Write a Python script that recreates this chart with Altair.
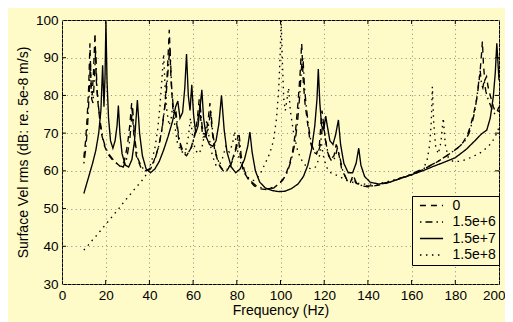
import altair as alt
import pandas as pd

BG = "#fefbc9"
FONT = "Liberation Sans"

x_ticks = [0, 20, 40, 60, 80, 100, 120, 140, 160, 180, 200]
y_ticks = [30, 40, 50, 60, 70, 80, 90, 100]
series_names = ["0", "1.5e+6", "1.5e+7", "1.5e+8"]

# (frequency Hz, level dB)
s_0 = [(10, 63.5), (10.8, 68), (11.5, 74), (12.2, 82), (12.8, 93.8), (13.3, 82), (13.8, 80), (14.4, 86),
       (15.1, 96.5), (15.7, 84), (16.3, 79), (17, 75), (18, 70), (19.5, 66.5), (21, 64.5), (23, 63),
       (25, 62), (27, 61), (28.5, 62.5), (30, 67), (31, 72), (31.9, 78), (32.8, 70), (34, 64), (36, 61),
       (38, 60), (40, 60.5), (42, 62.5), (44, 66), (45.5, 70), (47, 77), (48.2, 86), (49.1, 97.4),
       (49.9, 84), (50.8, 76), (51.8, 76), (52.6, 72), (53.5, 68), (55, 65), (57, 64), (59, 66),
       (60.5, 69), (61.8, 73), (62.8, 79), (63.6, 73), (64.5, 69), (65.5, 69), (66.8, 73), (67.7, 78),
       (68.6, 71), (70, 65), (72, 61.5), (74, 60), (76, 60.5), (78, 63), (79.5, 66), (80.6, 69.5),
       (81.6, 64), (83, 60), (85, 58), (88, 56), (91, 55.2), (94, 55), (97, 55.5), (100, 57),
       (102, 58.5), (104, 61.5), (105.5, 65), (106.8, 70), (108, 78), (109, 86), (109.7, 93.8),
       (110.4, 84), (111.2, 78), (112.3, 73), (113.5, 68), (115, 65), (116.5, 64.5), (117.8, 67),
       (119, 76), (120.2, 70), (121.5, 65), (123, 63), (124.5, 64), (125.5, 67), (126.5, 65),
       (128, 60.5), (130, 58), (132, 57), (133, 58.5), (134.5, 56.8), (137, 56), (140, 55.8),
       (145, 56.2), (150, 57), (155, 58), (160, 59), (165, 60.3), (170, 61.8), (175, 63.5),
       (178, 64.8), (181, 66), (183.5, 67.5), (185.5, 69.5), (187, 72), (188.3, 75), (189.5, 78),
       (190.5, 82), (191.3, 86), (192, 91), (192.4, 94.3), (192.9, 88), (193.5, 84), (194.3, 85),
       (195, 82.3), (196, 80), (197.4, 77), (198.5, 75.5), (199.3, 76), (200, 77)]

s_1 = [(10, 62), (10.9, 66), (11.7, 72), (12.4, 80), (13, 89), (13.6, 79), (14.2, 78), (14.8, 84),
       (15.4, 92), (16, 82), (16.7, 77), (17.5, 73), (18.5, 69), (20, 66), (22, 64), (24, 62.5),
       (26, 61.5), (28, 61), (29.5, 63), (31, 68), (31.7, 73), (32.3, 77), (33.2, 69), (34.5, 63.5),
       (36.5, 61), (38.5, 60), (40.5, 60.5), (42.5, 63), (44.5, 67), (46, 72), (47.5, 79), (48.6, 87),
       (49.4, 93), (50.2, 82), (51.2, 75), (52.2, 75.5), (53, 71), (54, 67.5), (55.5, 65), (57.5, 64.5),
       (59.5, 66.5), (61, 70), (62.3, 74), (63.2, 77.5), (64.1, 72), (65, 69), (66, 69.5), (67.2, 72.5),
       (68.1, 76), (69, 70), (70.5, 64.5), (72.5, 61), (74.5, 59.5), (76.5, 60.5), (78.5, 63.5),
       (80, 66.5), (81.1, 69.5), (82, 64), (83.5, 60), (86, 57.5), (89, 56), (92, 55.3), (95, 55.3),
       (98, 56), (101, 57.5), (103, 59.5), (105, 63), (106.5, 67), (107.8, 73), (108.8, 80),
       (109.7, 88), (110.3, 90), (111, 82), (111.8, 77), (112.8, 72), (114, 67.5), (115.5, 65),
       (117, 64.5), (118.3, 67), (119.5, 73.5), (120.6, 68), (122, 64), (123.5, 62.5), (125, 63.5),
       (126, 66), (127, 64), (128.5, 60), (130.5, 57.5), (132.5, 57.5), (133.5, 58.5), (135, 56.5),
       (138, 56), (142, 56), (147, 56.6), (152, 57.5), (157, 58.5), (162, 59.7), (167, 61),
       (172, 62.5), (176, 64), (179, 65.2), (182, 66.5), (184.5, 68), (186.3, 70), (187.8, 73),
       (189, 76), (190, 80), (190.8, 84), (191.4, 86.5), (192, 83), (192.6, 82), (193.2, 84),
       (194, 81), (195, 79), (196, 77.5), (197, 76), (198.2, 75), (199.2, 75.5), (200, 76)]

s_2 = [(10, 54), (11, 56), (12.5, 59), (14, 62), (15.5, 65.5), (16.8, 70), (17.8, 76), (18.6, 88),
       (19.2, 77), (19.7, 85), (20.1, 99.6), (20.6, 84), (21.3, 74), (22.2, 68), (23.3, 66), (24.3, 68),
       (25.2, 72), (25.8, 77.3), (26.5, 70), (27.5, 64.5), (29, 61.5), (30.5, 61), (32, 63), (33.2, 68),
       (34.5, 78.8), (35.5, 70), (36.8, 64), (38.5, 60.5), (40.5, 59.5), (42.5, 60.5), (44.5, 62.5),
       (46.5, 65.5), (48.5, 69), (50.5, 73), (52, 77), (53, 78.5), (54, 74), (55.2, 75.5), (56.2, 82),
       (57, 91), (57.8, 80), (58.6, 76), (59.4, 82.8), (60.2, 75), (61.2, 70), (62.3, 72), (63.2, 77),
       (64, 81.5), (64.8, 74), (66, 69), (67.5, 67), (69, 66.5), (70.5, 68), (71.8, 72.5), (73, 80),
       (74.2, 71), (75.5, 65), (77.5, 61), (79.5, 59.5), (81.5, 60.5), (83.5, 63), (85, 66.5),
       (86, 70.3), (87, 65), (88.5, 60), (90.5, 57), (93, 55.5), (96, 54.8), (99, 54.5), (102, 54.6),
       (105, 55.3), (108, 56.5), (110.5, 58.5), (112.5, 61.5), (114.3, 66), (115.7, 72), (116.7, 79),
       (117.3, 87), (118, 78), (118.8, 72), (119.8, 71), (120.7, 74.5), (121.4, 72), (122.6, 68),
       (124, 67), (125.2, 69.5), (126.5, 73.5), (127.5, 67), (129, 62), (131, 59.5), (133, 59.5),
       (134.6, 62), (135.8, 66), (136.8, 61.5), (138.5, 58.5), (141, 57), (145, 56.5), (150, 57),
       (155, 58), (160, 59), (165, 60), (170, 61.2), (175, 62.3), (180, 63.5), (185, 65.7), (189, 68),
       (192, 69.8), (194.4, 70.8), (196, 74), (197.4, 79.7), (198.3, 86), (199, 93.8), (199.6, 88),
       (200, 84)]

s_3 = [(10, 39), (12, 40.3), (14, 41.7), (16, 43), (18, 44.4), (20, 45.8), (22, 47.2), (24, 48.6),
       (26, 50), (28, 51.5), (30, 52.9), (32, 54.3), (34, 55.7), (36, 57), (38, 58.5), (39.5, 60),
       (41, 62.5), (42.5, 66), (43.8, 71), (44.8, 77), (45.7, 84), (46.5, 91), (47.2, 82), (48, 76),
       (49, 72), (50, 74), (50.8, 78), (51.6, 72), (52.8, 67.5), (54.5, 65), (56.5, 65), (57.8, 69),
       (58.8, 74), (59.8, 69), (61, 65.5), (62.5, 64.5), (64, 66), (65.3, 70), (66.3, 73.5), (67.3, 69),
       (68.8, 64), (70.5, 61.5), (72, 61.5), (73.5, 63.5), (75, 66.5), (76.5, 65), (78, 67), (79, 70.5),
       (79.8, 67), (81, 63.5), (83, 60), (85, 58), (87, 57.3), (89, 57.8), (91, 59.5), (93, 62),
       (95, 64.5), (96.8, 68), (98.2, 74), (99.2, 82), (99.8, 90), (100.3, 100), (100.8, 90),
       (101.5, 79), (102.2, 76), (103, 79), (103.7, 82), (104.5, 76), (106, 70), (108, 65),
       (110, 62.5), (112, 61), (114, 60.5), (116, 61), (117.5, 63), (118.8, 67), (119.6, 64),
       (121, 61), (123, 59.5), (125, 59), (127, 58.5), (130, 57.5), (134, 56.8), (138, 56.5),
       (143, 56.5), (148, 57), (153, 57.8), (158, 58.5), (162, 59.3), (165, 60.3), (167, 62.5),
       (168.3, 67), (169, 73), (169.5, 82.3), (170.1, 73), (171, 66.5), (172.2, 64.5), (173.4, 67.5),
       (174.5, 74), (175.4, 67), (176.8, 63.5), (179, 62.5), (182, 62.5), (185, 63), (188, 63.8),
       (191, 64.6), (193, 65.5), (195, 66.4), (197, 67.8), (199, 70), (200, 71.5)]

rows = []
for name, pts in zip(series_names, [s_0, s_1, s_2, s_3]):
    for f, v in pts:
        rows.append({"f": f, "v": v, "k": name})
df = pd.DataFrame(rows)

xscale = alt.Scale(domain=[0, 200], nice=False, zero=False)
yscale = alt.Scale(domain=[30, 100], nice=False, zero=False)
xaxis = alt.Axis(
    values=x_ticks, title="Frequency (Hz)", format="d", labelFlush=False,
    labelAlign={"condition": {"test": "datum.value >= 200", "value": "right"}, "value": "center"},
    labelOffset={"condition": {"test": "datum.value >= 200", "value": 6}, "value": 0},
)
yaxis = alt.Axis(values=y_ticks, title="Surface Vel rms (dB: re. 5e-8 m/s)", format="d", labelFlush=False)

def X(field):
    return alt.X(field, type="quantitative", scale=xscale, axis=xaxis)

def Y(field):
    return alt.Y(field, type="quantitative", scale=yscale, axis=yaxis)

lines = alt.Chart(df).mark_line(color="black", strokeWidth=1.35, clip=True).encode(
    x=X("f"),
    y=Y("v"),
    detail="k:N",
    strokeDash=alt.StrokeDash(
        "k:N",
        scale=alt.Scale(domain=series_names,
                        range=[[6, 5], [1.5, 4, 7, 4], [1, 0], [1.5, 4.5]]),
        legend=alt.Legend(
            title=None, orient="none", legendX=350, legendY=176,
            strokeColor="black", fillColor=BG, padding=2.5,
            labelFontSize=14, labelFont=FONT, labelColor="black",
            labelExpr="datum.label + '\u2009\u2009'",
            symbolType="M-3.3,0H3.3", symbolSize=49, symbolStrokeWidth=1.4,
            symbolStrokeColor="black", symbolFillColor="transparent",
            symbolOffset=10, labelOffset=14, rowPadding=2.5,
        ),
    ),
    order="f:Q",
)

xt = pd.DataFrame({"t": x_ticks[1:-1]})
yt = pd.DataFrame({"t": y_ticks[1:-1]})
tick_b = alt.Chart(xt).mark_rule(color="black").encode(x=X("t"), y=alt.value(264), y2=alt.value(260))
tick_t = alt.Chart(xt).mark_rule(color="black").encode(x=X("t"), y=alt.value(0), y2=alt.value(4))
tick_l = alt.Chart(yt).mark_rule(color="black").encode(y=Y("t"), x=alt.value(0), x2=alt.value(4))
tick_r = alt.Chart(yt).mark_rule(color="black").encode(y=Y("t"), x=alt.value(437), x2=alt.value(433))

chart = alt.layer(lines, tick_b, tick_t, tick_l, tick_r).properties(
    width=437, height=264,
    autosize=alt.AutoSizeParams(type="none"),
    padding={"left": 54, "top": 12, "right": 6, "bottom": 38},
    background=BG,
).configure_view(
    stroke="black", strokeWidth=1, fill=BG,
).configure_axis(
    grid=True, gridColor="#8a8a7c", gridDash=[1, 3.4], gridWidth=1,
    domain=False, ticks=False,
    labelFont=FONT, labelFontSize=13.5, labelColor="black", labelPadding=4,
    titleFont=FONT, titleFontSize=14, titleFontWeight="normal", titleColor="black",
).configure_axisX(
    titlePadding=2,
).configure_axisY(
    titlePadding=5,
)

chart.save("out.html", embed_options={"renderer": "svg", "actions": False})
